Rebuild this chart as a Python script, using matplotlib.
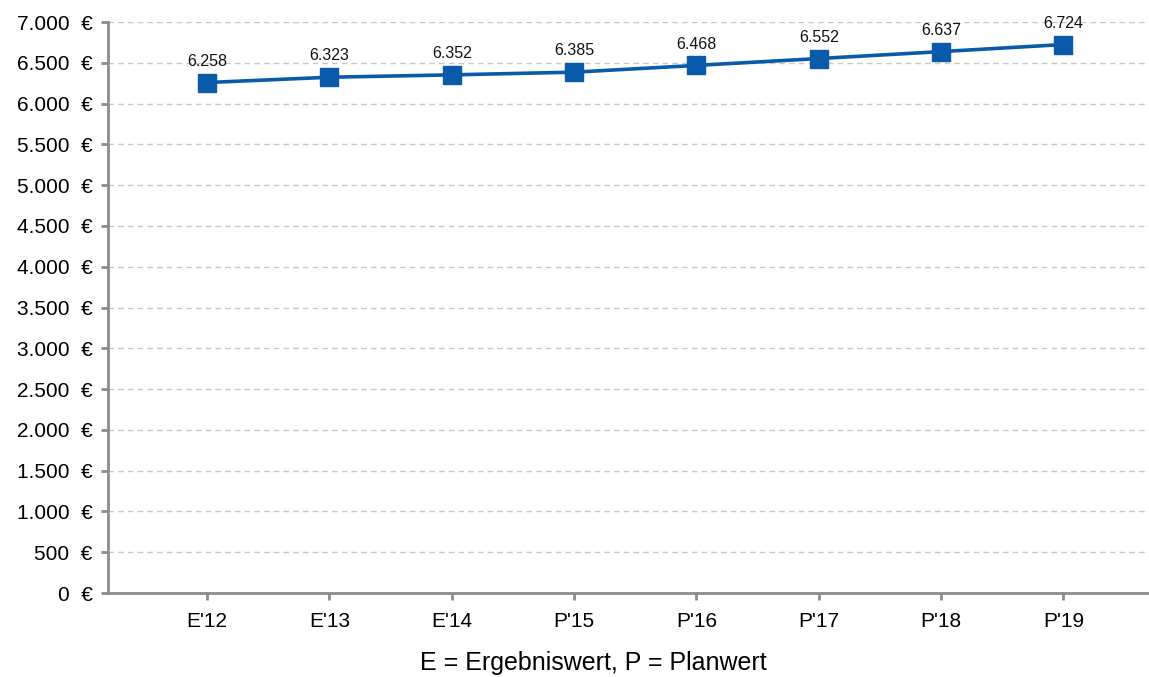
import matplotlib.pyplot as plt
from matplotlib.ticker import FuncFormatter

categories = ["E'12", "E'13", "E'14", "P'15", "P'16", "P'17", "P'18", "P'19"]
values = [6258, 6323, 6352, 6385, 6468, 6552, 6637, 6724]
y_ticks = list(range(0, 7001, 500))

plt.rcParams["font.family"] = ["Liberation Sans", "DejaVu Sans"]
line_color = "#0A5AAA"
axis_color = "#8C8C8C"

fig = plt.figure(figsize=(11.49, 6.77), dpi=100)
ax = fig.add_axes([0.094, 0.124, 0.906, 0.8435])

x = list(range(len(categories)))
ax.plot(x, values, color=line_color, linewidth=2.6, marker="s", markersize=13,
        zorder=3)
for xi, v in zip(x, values):
    label = f"{v:,}".replace(",", ".")
    ax.annotate(label, (xi, v), xytext=(0, 10), textcoords="offset points",
                ha="center", va="bottom", fontsize=11.5, color="#111111")

ax.set_xlim(-0.81, 7.7)
ax.set_ylim(0, 7000)
ax.set_xticks(x)
ax.set_xticklabels(categories, fontsize=15)
ax.set_yticks(y_ticks)
ax.yaxis.set_major_formatter(FuncFormatter(lambda v, p: f"{int(v):,}  €".replace(",", ".")))
ax.tick_params(axis="y", labelsize=15, length=5, width=2, color=axis_color, pad=6)
ax.tick_params(axis="x", length=5, width=2, color=axis_color, pad=9)

ax.grid(axis="y", linestyle=(0, (4, 3)), color="#C8C8C8", linewidth=1)
ax.set_axisbelow(True)
for side in ["top", "right"]:
    ax.spines[side].set_visible(False)
for side in ["left", "bottom"]:
    ax.spines[side].set_color(axis_color)
    ax.spines[side].set_linewidth(2)

fig.text(593 / 1149, 1 - 663 / 677, "E = Ergebniswert, P = Planwert",
         fontsize=18, ha="center", va="center")

fig.savefig("out.png", dpi=100)
